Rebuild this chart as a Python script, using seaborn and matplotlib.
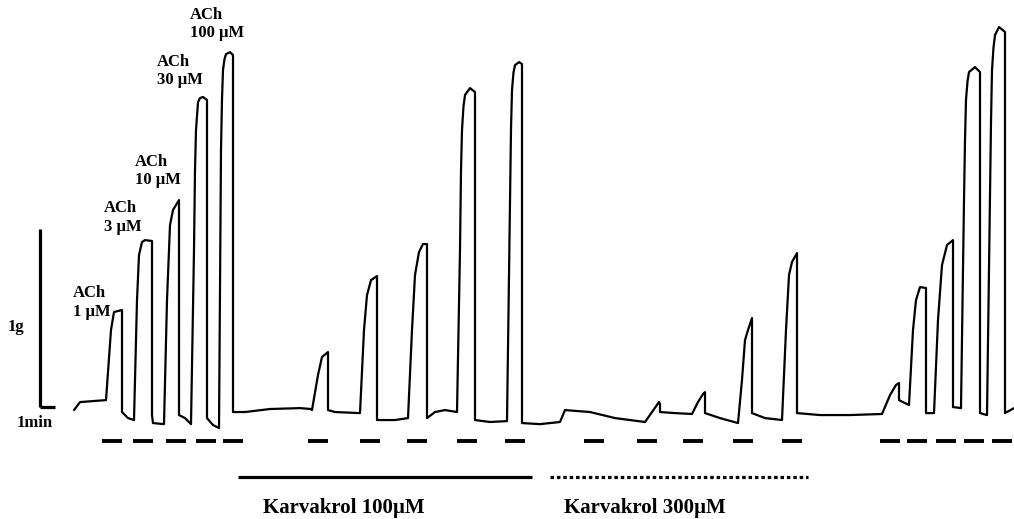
"""
Isometric tension trace: ACh concentration series, then with
karvakrol 100 uM and 300 uM, then washout.
Time in seconds, tension in g (relative to the resting level).
"""

import numpy as np
import pandas as pd
import matplotlib
matplotlib.use("Agg")
import matplotlib.pyplot as plt
import seaborn as sns

# --- trace vertices ------------------------------------------------------
# control ACh 1, 3, 10, 30, 100 uM
ctrl_t = [136, 160, 264, 284, 296, 328, 328, 352, 376, 388, 396, 408, 420, 448,
          448, 452, 496, 508, 520, 532, 556, 556, 580, 604, 616, 620, 624, 632,
          640, 652, 668, 668, 692, 716, 724, 728, 732, 738, 744, 760, 772, 772,
          820, 920, 1040, 1084]
ctrl_g = [-0.017, 0.028, 0.039, 0.433, 0.534, 0.545, -0.028, -0.062, -0.073,
          0.601, 0.854, 0.927, 0.938, 0.933, -0.045, -0.090, -0.096, 0.601,
          1.022, 1.107, 1.163, -0.045, -0.062, -0.096, 0.882, 1.331, 1.556,
          1.713, 1.736, 1.742, 1.725, -0.062, -0.101, -0.118, 1.444, 1.730,
          1.893, 1.955, 1.983, 1.994, 1.978, -0.028, -0.028, -0.011, -0.006,
          -0.011]

# karvakrol 100 uM
k100_t = [1088, 1112, 1128, 1152, 1152, 1180, 1280, 1296, 1308, 1324, 1348, 1348,
          1420, 1472, 1488, 1500, 1516, 1532, 1548, 1548, 1580, 1620, 1668, 1680,
          1684, 1688, 1694, 1700, 1720, 1740, 1740, 1800, 1868, 1880, 1884, 1888,
          1894, 1900, 1916, 1928, 1928, 2000, 2080]
k100_g = [-0.017, 0.180, 0.281, 0.309, -0.017, -0.028, -0.034, 0.433, 0.629,
          0.713, 0.736, -0.073, -0.073, -0.062, 0.433, 0.742, 0.871, 0.916,
          0.916, -0.062, -0.028, -0.017, -0.028, 0.882, 1.330, 1.556, 1.690,
          1.753, 1.792, 1.770, -0.073, -0.084, -0.079, 1.163, 1.560, 1.781,
          1.880, 1.921, 1.938, 1.927, -0.090, -0.096, -0.084]

# karvakrol 300 uM
k300_t = [2100, 2200, 2300, 2420, 2448, 2476, 2480, 2480, 2540, 2608, 2632, 2652,
          2660, 2660, 2720, 2792, 2808, 2820, 2832, 2848, 2848, 2900, 2968, 2984,
          2996, 3008, 3028, 3028, 3120, 3240]
k300_g = [-0.017, -0.028, -0.062, -0.084, -0.028, 0.028, 0.017, -0.028, -0.034,
          -0.039, 0.028, 0.073, 0.084, -0.034, -0.062, -0.090, 0.152, 0.376,
          0.433, 0.500, -0.034, -0.062, -0.073, 0.433, 0.742, 0.815, 0.865,
          -0.034, -0.045, -0.045]

# washout
wash_t = [3368, 3400, 3424, 3436, 3436, 3476, 3492, 3504, 3520, 3544, 3544, 3576,
          3592, 3608, 3628, 3652, 3652, 3684, 3696, 3700, 3704, 3710, 3716, 3740,
          3760, 3760, 3788, 3800, 3804, 3808, 3814, 3820, 3836, 3860, 3860, 3896]
wash_g = [-0.039, 0.067, 0.124, 0.135, 0.039, 0.011, 0.433, 0.601, 0.674, 0.669,
          -0.034, -0.034, 0.489, 0.798, 0.910, 0.938, 0.0, -0.006, 1.163, 1.500,
          1.725, 1.830, 1.882, 1.910, 1.882, -0.034, -0.045, 1.163, 1.600, 1.893,
          2.020, 2.090, 2.135, 2.107, -0.034, -0.006]

# ACh application marks (start, s) and their length
ach_starts = [248, 372, 504, 624, 732, 1072, 1280, 1468, 1668, 1860,
              2176, 2388, 2572, 2772, 2968, 3360, 3468, 3584, 3696, 3808]
ach_len = 80

# karvakrol exposure periods (s)
k100_period = [792, 1968]
k300_period = [2040, 3072]

ach_labels = ["ACh\n1 \u00b5M", "ACh\n3 \u00b5M", "ACh\n10 \u00b5M",
              "ACh\n30 \u00b5M", "ACh\n100 \u00b5M"]
ach_label_t = [132, 256, 380, 468, 600]
ach_label_g = [0.587, 1.065, 1.326, 1.888, 2.152]

sns.set_style("white")
plt.rcParams["font.family"] = ["Liberation Serif", "DejaVu Serif"]

trace = pd.DataFrame({
    "time": np.concatenate([ctrl_t, k100_t, k300_t, wash_t]),
    "tension": np.concatenate([ctrl_g, k100_g, k300_g, wash_g]),
})

fig = plt.figure(figsize=(10.14, 5.19), dpi=100)
ax = fig.add_axes([0, 0, 1, 1])

sns.lineplot(data=trace, x="time", y="tension", sort=False, estimator=None,
             color="black", lw=1.6, ax=ax)

# application marks under the trace
for s in ach_starts:
    ax.plot([s, s + ach_len], [-0.191, -0.191], color="black", lw=2.8,
            solid_capstyle="butt")

# karvakrol bars
ax.plot(k100_period, [-0.393, -0.393], color="black", lw=2.3,
        solid_capstyle="butt")
ax.plot(k300_period, [-0.393, -0.393], color="black", lw=2.3,
        linestyle=(0, (1.1, 0.9)))

# scale bars: 1 g, 1 min
ax.plot([0, 0], [0, 1], color="black", lw=2.3, solid_capstyle="butt")
ax.plot([0, 60], [0, 0], color="black", lw=2.3, solid_capstyle="butt")

txt = dict(fontweight="bold", color="black")
ax.text(-96, 0.449, "1g", ha="center", va="center", fontsize=12, **txt)
ax.text(-20, -0.090, "1min", ha="center", va="center", fontsize=12, **txt)

for lab, t, g in zip(ach_labels, ach_label_t, ach_label_g):
    ax.text(t, g, lab, ha="left", va="center", fontsize=12,
            linespacing=1.2, **txt)

ax.text(1216, -0.567, "Karvakrol 100\u00b5M", ha="center", va="center",
        fontsize=15, **txt)
ax.text(2420, -0.567, "Karvakrol 300\u00b5M", ha="center", va="center",
        fontsize=15, **txt)

ax.set_xlim(-160, 3896)
ax.set_ylim(-0.629, 2.287)
ax.axis("off")

fig.savefig("out.png", dpi=100)
